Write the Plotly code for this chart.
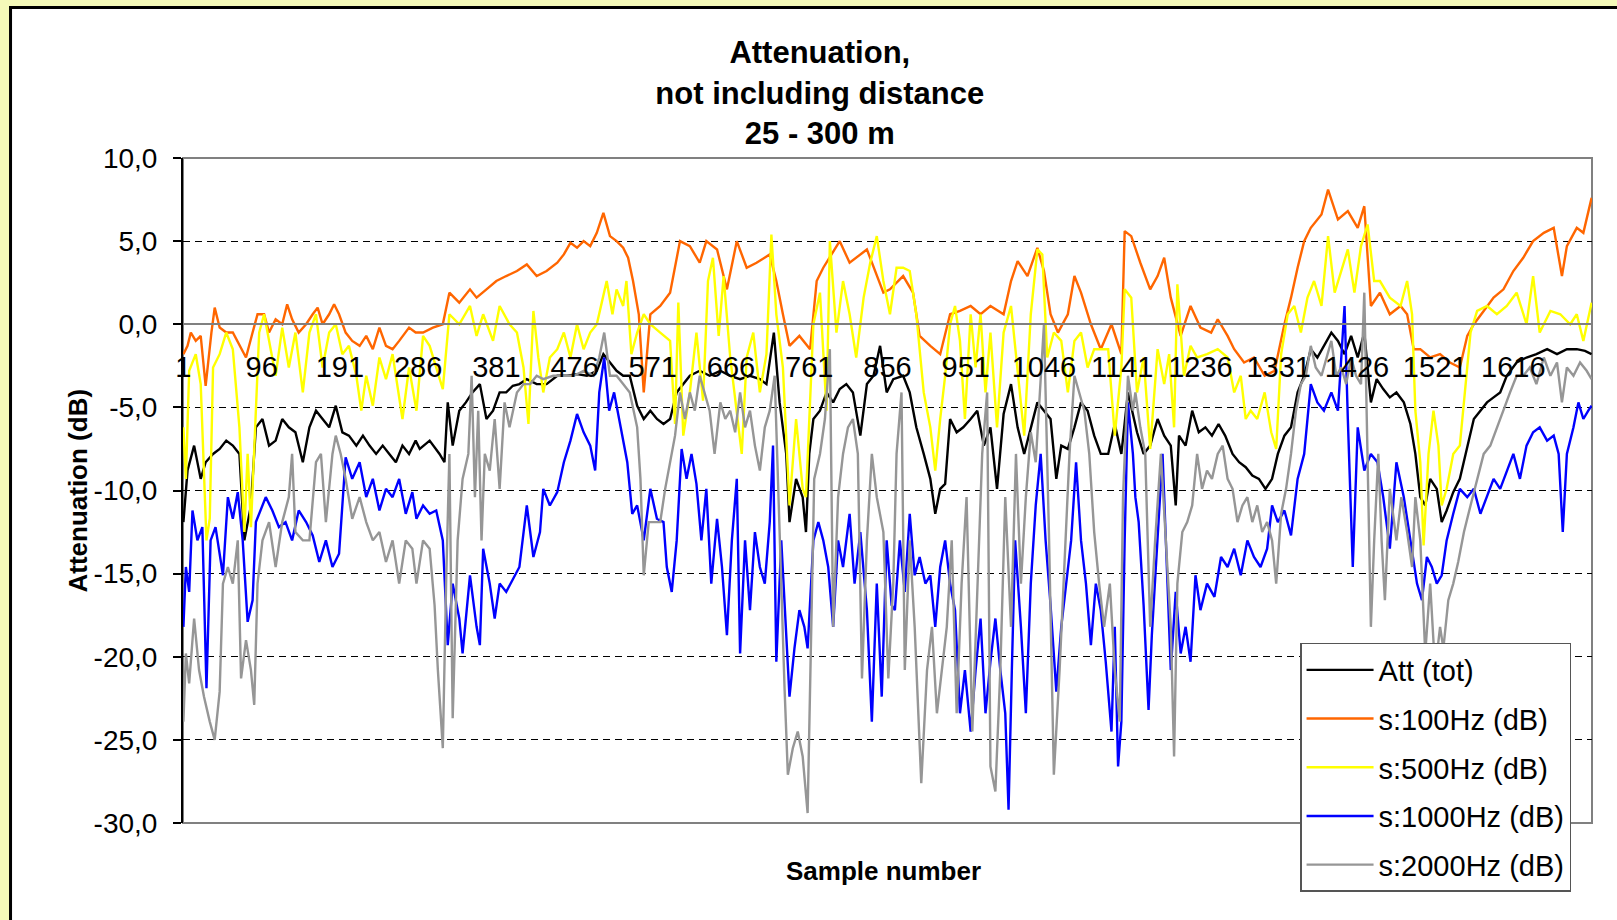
import plotly.graph_objects as go

# sample number / attenuation (dB)
att_tot = [(1,-11.9),(6,-8.8),(14,-7.3),(22,-9.3),(28,-8.3),(37,-7.8),(45,-7.5),(53,-7.0),(61,-7.3),(69,-7.8),(75,-13.0),(83,-10.9),(89,-6.2),(97,-5.7),(105,-7.3),(113,-7.0),(121,-5.7),(129,-6.2),(137,-6.5),(146,-8.3),(154,-6.2),(162,-5.2),(170,-5.7),(178,-6.2),(186,-4.9),(194,-6.5),(202,-6.7),(211,-7.3),(219,-6.7),(227,-7.3),(235,-7.8),(243,-7.3),(251,-7.8),(259,-8.3),(267,-7.3),(275,-7.8),(283,-7.0),
    (288,-7.5),(300,-7.0),(312,-7.8),(318,-8.3),(322,-4.7),(328,-7.3),(336,-5.2),(344,-4.7),(352,-4.1),(361,-3.6),(369,-5.7),(377,-5.2),(385,-4.1),(393,-4.1),(401,-3.7),(409,-3.6),(418,-3.3),(430,-3.6),(442,-3.6),(455,-3.1),(467,-3.1),(479,-3.0),(491,-3.1),(503,-2.8),(511,-1.8),(519,-2.3),(527,-2.8),(535,-3.1),(543,-3.1),(552,-4.9),(560,-5.7),(568,-5.2),(576,-5.7),
    (584,-6.0),(592,-5.7),(600,-4.1),(608,-3.6),(616,-3.1),(628,-2.8),(640,-3.1),(653,-2.8),(665,-3.1),(677,-3.3),(689,-3.1),(701,-3.3),(709,-3.6),(718,-0.5),(725,-4.7),(733,-7.8),(737,-11.9),(745,-9.3),(753,-10.4),(757,-12.5),(761,-7.8),(766,-5.7),(774,-5.2),(782,-4.1),(790,-4.7),(798,-3.9),(806,-3.6),(814,-4.1),(823,-6.7),(831,-3.6),(839,-3.1),(847,-1.3),(855,-4.1),(863,-3.3),
    (875,-3.1),(883,-4.1),(891,-6.2),(900,-7.8),(908,-9.3),(914,-11.4),(920,-9.9),(926,-9.6),(932,-5.7),(940,-6.5),(948,-6.2),(957,-5.7),(965,-5.2),(973,-7.3),(981,-6.2),(989,-9.9),(997,-5.4),(1006,-3.6),(1014,-6.2),(1022,-7.8),(1030,-6.2),(1038,-4.7),(1046,-5.2),(1054,-5.7),(1061,-9.3),(1067,-7.3),(1075,-7.5),(1083,-6.2),(1091,-4.7),(1099,-5.2),(1107,-6.7),(1115,-7.8),(1124,-7.8),(1132,-6.0),(1140,-7.8),(1148,-4.1),
    (1159,-6.5),(1167,-7.8),(1175,-7.3),(1184,-5.7),(1192,-6.7),(1200,-7.3),(1206,-10.9),(1210,-6.7),(1218,-7.3),(1226,-5.2),(1234,-6.5),(1242,-6.2),(1250,-6.7),(1258,-6.0),(1266,-6.7),(1275,-7.8),(1283,-8.3),(1291,-8.6),(1299,-9.1),(1307,-9.3),(1315,-9.9),(1323,-9.3),(1330,-7.8),(1338,-6.7),(1346,-6.2),(1354,-4.1),(1362,-3.1),(1370,-1.5),(1378,-2.0),(1386,-1.3),(1395,-0.5),(1403,-1.0),(1411,-1.8),(1419,-0.7),(1427,-2.0),(1435,-0.5),(1443,-4.7),
    (1450,-3.3),(1458,-3.9),(1466,-4.4),(1474,-4.1),(1483,-4.7),(1491,-6.0),(1497,-7.8),(1503,-10.4),(1509,-10.9),(1515,-9.3),(1523,-9.9),(1529,-11.9),(1535,-11.2),(1543,-10.1),(1551,-9.3),(1560,-7.3),(1568,-5.7),(1576,-5.2),(1584,-4.7),(1592,-4.4),(1600,-4.1),(1608,-3.1),(1620,-2.3),(1632,-2.0),(1644,-1.8),(1657,-1.5),(1669,-1.8),(1681,-1.5),(1693,-1.5),(1703,-1.6),(1711,-1.8)]

s100 = [(1,-1.8),(6,-1.3),(10,-0.5),(16,-1.0),(22,-0.7),(28,-3.7),(35,-0.5),(39,1.0),(45,-0.2),(53,-0.5),(61,-0.5),(69,-1.3),(77,-2.0),(85,-0.5),(91,0.6),(99,0.6),(105,-0.5),(113,0.3),(121,0.0),(127,1.2),(133,0.3),(141,-0.5),(150,0.0),(158,0.6),(164,1.0),(170,0.0),(178,0.6),(184,1.2),(190,0.6),(198,-0.5),(206,-1.0),(215,-1.3),(223,-0.7),(231,-1.5),(239,-0.2),(247,-1.3),(255,-1.5),(263,-1.0),(275,-0.2),(283,-0.5),
    (292,-0.5),(304,-0.2),(316,0.0),(324,1.9),(336,1.3),(349,2.1),(357,1.6),(369,2.1),(381,2.6),(393,2.9),(406,3.2),(418,3.6),(430,2.9),(442,3.2),(455,3.7),(463,4.2),(471,4.9),(479,4.6),(487,5.0),(495,4.7),(503,5.5),(511,6.7),(519,5.3),(527,5.0),(535,4.6),(541,4.0),(547,2.6),(554,0.6),(560,-4.1),(568,0.6),
    (580,1.1),(592,1.9),(600,4.0),(604,5.0),(616,4.7),(628,3.7),(636,5.0),(649,4.5),(661,2.1),(673,5.0),(685,3.4),(697,3.7),(713,4.2),(721,2.6),(729,0.6),(737,-1.3),(749,-0.7),(762,-1.5),(770,2.6),(778,3.4),(798,5.0),(810,3.7),(831,4.5),(851,1.9),
    (859,2.1),(875,2.9),(887,1.9),(895,-0.7),(908,-1.3),(920,-1.8),(932,0.6),(944,0.8),(957,1.1),(969,0.6),(981,1.1),(997,0.6),(1006,2.6),(1014,3.8),(1026,2.9),(1038,4.6),(1046,3.2),(1054,0.6),(1063,-0.5),(1075,0.6),(1083,2.9),(1091,1.9),(1103,0.0),(1115,-1.5),(1128,0.0),(1140,-1.8),(1144,5.6),(1152,5.3),
    (1163,3.7),(1175,2.1),(1184,2.9),(1192,4.0),(1200,1.6),(1212,-0.7),(1224,1.1),(1236,-0.2),(1249,-0.5),(1257,0.3),(1269,-0.7),(1277,-1.5),(1289,-2.3),(1301,-2.0),(1314,-3.1),(1326,-2.8),(1338,0.0),(1346,1.6),(1354,3.4),(1362,5.0),(1370,5.8),(1383,6.6),(1391,8.1),(1403,6.3),(1415,6.8),(1427,5.8),(1435,7.1),(1443,1.1),
    (1454,1.9),(1466,0.6),(1479,1.1),(1487,0.6),(1495,-1.5),(1503,-1.5),(1515,-2.0),(1527,-1.8),(1539,-2.3),(1551,-2.6),(1560,-0.7),(1568,0.0),(1580,0.8),(1592,1.6),(1604,2.1),(1616,3.2),(1628,4.0),(1640,5.0),(1653,5.5),(1665,5.8),(1675,2.9),(1681,4.7),(1693,5.8),(1701,5.5),(1711,7.6)]

s500 = [(1,-6.2),(4,-9.3),(8,-2.8),(16,-1.8),(22,-3.6),(29,-13.0),(33,-11.7),(37,-2.6),(45,-1.8),(53,-0.5),(61,-1.5),(69,-6.2),(75,-12.5),(79,-7.8),(83,-12.2),(89,-5.2),(93,-0.5),(99,0.6),(105,-1.0),(113,-3.1),(121,-0.2),(129,-2.6),(137,-0.5),(146,-4.1),(154,-0.5),(162,0.6),(170,-2.6),(178,-0.5),(186,0.0),(194,-1.8),(202,-1.3),(211,-3.1),(217,-5.2),(223,-3.1),(231,-4.9),(239,-2.0),(247,-3.3),(255,-1.8),(267,-5.7),(275,-2.6),
    (284,-5.2),(292,-0.7),(300,-1.3),(316,-3.9),(324,0.6),(336,0.0),(349,1.1),(357,-0.7),(365,0.6),(377,-1.0),(385,1.1),(397,0.0),(406,-0.5),(414,-2.6),(420,-6.0),(426,0.8),(432,-2.0),(438,-4.1),(446,-2.0),(455,-1.5),(463,-0.5),(471,-2.0),(479,0.0),(487,-1.5),(495,-0.5),(503,0.0),(509,1.3),(515,2.6),(522,0.6),(527,2.1),(535,1.1),(539,2.6),(545,-1.8),(552,-0.5),(560,0.6),(568,0.0),
    (580,-0.5),(592,-1.0),(598,-6.0),(602,1.3),(608,-6.7),(616,-4.1),(624,-0.5),(632,-4.6),(638,2.6),(644,4.0),(651,-0.7),(657,2.9),(665,-2.0),(673,-5.2),(679,-7.8),(685,-2.0),(693,-0.5),(701,-4.1),(709,-1.8),(715,5.4),(721,0.6),(729,-2.6),(737,-10.9),(745,-5.7),(753,-9.9),(757,-10.4),(766,0.0),(774,1.9),(782,-5.2),(786,5.0),(794,-0.5),(802,2.6),(810,0.6),(818,-2.0),(827,1.6),(835,3.7),(843,5.3),(851,2.6),(859,0.6),
    (867,3.4),(875,3.4),(883,3.2),(891,0.6),(900,-4.1),(908,-6.2),(914,-8.8),(920,-5.7),(926,-3.1),(932,0.0),(938,1.1),(944,-1.0),(950,-5.7),(957,0.6),(963,-2.6),(969,0.6),(975,-4.1),(981,-0.5),(989,-6.2),(997,-0.5),(1006,1.1),(1014,-2.6),(1022,-6.7),(1030,0.6),(1038,4.5),(1044,4.2),(1050,-2.0),(1058,-0.5),(1067,-1.0),(1075,-4.1),(1083,-1.0),(1091,-0.5),(1099,-2.6),(1107,-1.5),(1115,-1.5),(1124,-1.5),(1132,-6.7),(1140,-2.6),(1144,2.1),(1152,1.6),
    (1159,-4.1),(1167,-2.0),(1175,-7.5),(1184,-1.5),(1192,-3.6),(1198,-1.8),(1204,-6.2),(1208,2.4),(1216,-3.1),(1224,-1.3),(1232,-2.0),(1244,-1.8),(1257,-1.5),(1269,-2.0),(1277,-4.1),(1285,-3.1),(1291,-5.7),(1297,-5.2),(1305,-5.7),(1314,-4.1),(1322,-6.5),(1328,-7.5),(1334,-1.8),(1342,0.6),(1350,1.1),(1358,-0.5),(1366,1.6),(1374,2.6),(1383,1.1),(1391,5.3),(1399,1.9),(1407,3.2),(1415,4.5),(1423,1.9),(1431,4.7),(1439,6.0),(1447,2.6),
    (1454,2.6),(1466,1.6),(1479,1.1),(1487,2.6),(1493,0.6),(1497,-5.2),(1503,-8.3),(1507,-13.3),(1513,-7.8),(1519,-5.2),(1525,-7.3),(1529,-10.9),(1535,-9.9),(1543,-7.8),(1551,-7.3),(1558,-3.6),(1564,-0.5),(1572,0.8),(1584,1.1),(1596,0.6),(1608,1.1),(1620,1.9),(1632,0.0),(1640,2.9),(1648,-0.5),(1661,0.8),(1673,0.6),(1685,0.0),(1693,0.6),(1701,-1.0),(1711,1.3)]

s1000 = [(1,-18.2),(4,-14.6),(8,-16.1),(12,-11.2),(18,-13.0),(24,-12.2),(29,-21.9),(34,-13.0),(40,-12.2),(49,-15.1),(55,-10.4),(61,-11.7),(67,-10.1),(73,-13.0),(79,-17.9),(85,-16.6),(89,-11.9),(95,-11.2),(101,-10.4),(109,-11.2),(117,-12.2),(125,-11.9),(133,-13.0),(141,-11.2),(150,-11.9),(158,-12.7),(166,-14.3),(174,-13.0),(182,-14.6),(190,-13.8),(198,-8.0),(206,-9.3),(215,-8.3),(223,-10.4),(231,-9.3),(239,-11.2),(247,-9.9),(255,-10.4),(263,-9.3),(271,-11.4),(279,-10.1),
    (284,-11.7),(292,-10.9),(300,-11.4),(308,-11.2),(316,-13.0),(322,-19.3),(328,-15.6),(336,-17.7),(340,-19.8),(349,-15.1),(357,-18.2),(361,-19.3),(365,-13.5),(373,-15.6),(379,-17.7),(385,-15.6),(393,-16.1),(401,-15.3),(409,-14.6),(418,-10.9),(426,-14.0),(434,-12.5),(438,-9.9),(446,-10.9),(455,-10.1),(463,-8.3),(471,-7.0),(479,-5.4),(487,-6.5),(495,-7.3),(501,-8.8),(506,-4.1),(512,-2.0),(518,-5.2),(524,-4.1),(532,-6.2),(540,-8.3),(546,-11.4),(552,-10.9),(560,-13.0),(568,-9.9),(576,-11.7),
    (584,-11.9),(588,-14.6),(594,-16.1),(600,-13.0),(606,-7.5),(612,-9.3),(618,-7.8),(624,-9.6),(630,-13.0),(636,-9.9),(642,-15.6),(649,-11.7),(655,-14.6),(661,-18.7),(667,-13.0),(673,-9.3),(677,-19.8),(683,-13.0),(689,-17.2),(695,-12.5),(701,-14.6),(707,-15.6),(713,-11.9),(717,-7.3),(721,-20.3),(727,-13.0),(733,-18.2),(737,-22.4),(743,-19.5),(749,-17.2),(755,-18.2),(759,-19.5),(766,-13.0),(772,-11.9),(778,-13.0),(784,-14.6),(790,-18.2),(796,-13.0),(802,-14.6),(810,-11.4),(816,-15.6),(823,-12.5),(831,-17.2),(837,-23.9),(843,-15.6),(849,-22.4),(855,-13.0),(861,-16.9),
    (865,-17.2),(871,-13.0),(877,-16.1),(883,-11.4),(889,-15.1),(895,-14.0),(902,-15.6),(908,-15.1),(914,-18.2),(920,-14.6),(926,-13.0),(932,-15.6),(938,-17.2),(944,-23.4),(950,-20.8),(957,-24.5),(963,-20.8),(969,-17.7),(975,-23.4),(981,-20.3),(987,-17.7),(993,-20.8),(999,-23.4),(1003,-29.2),(1007,-20.8),(1011,-13.0),(1018,-18.2),(1024,-23.4),(1030,-15.6),(1036,-10.9),(1042,-7.8),(1048,-13.0),(1054,-16.9),(1061,-22.1),(1067,-18.2),(1073,-15.6),(1079,-13.0),(1085,-8.3),(1091,-13.0),(1097,-15.6),(1103,-19.3),(1109,-15.6),(1115,-17.2),(1121,-20.3),(1128,-24.5),(1132,-18.2),(1136,-26.6),(1140,-23.9),(1144,-13.0),(1148,-4.7),(1154,-7.8),
    (1157,-10.4),(1161,-11.9),(1167,-16.9),(1173,-23.2),(1177,-18.7),(1184,-13.0),(1190,-7.8),(1196,-15.6),(1200,-20.8),(1206,-16.1),(1212,-19.8),(1218,-18.2),(1224,-20.3),(1230,-15.1),(1236,-17.2),(1244,-15.6),(1253,-16.4),(1261,-14.0),(1269,-14.6),(1277,-13.5),(1285,-15.1),(1293,-13.0),(1301,-14.0),(1309,-14.6),(1317,-13.5),(1323,-10.9),(1330,-11.9),(1338,-11.2),(1346,-12.7),(1354,-9.3),(1362,-7.8),(1370,-3.6),(1378,-4.7),(1386,-5.2),(1395,-4.1),(1403,-5.2),(1411,1.1),(1415,-5.7),(1421,-14.6),(1427,-6.2),(1435,-8.8),(1443,-7.8),(1451,-8.3),
    (1458,-10.4),(1466,-13.5),(1474,-8.3),(1483,-10.4),(1491,-13.0),(1499,-15.6),(1505,-16.6),(1511,-14.0),(1517,-14.6),(1523,-15.6),(1529,-15.1),(1535,-13.0),(1543,-11.4),(1551,-9.9),(1560,-10.4),(1568,-9.9),(1576,-11.4),(1584,-10.4),(1592,-9.3),(1600,-9.9),(1608,-8.8),(1616,-7.8),(1624,-9.3),(1632,-7.3),(1640,-6.5),(1648,-6.2),(1657,-7.0),(1665,-6.7),(1671,-7.8),(1676,-12.5),(1681,-7.8),(1689,-6.2),(1695,-4.7),(1701,-5.7),(1707,-5.2),(1711,-4.9)]

s2000 = [(1,-23.9),(4,-19.8),(8,-21.6),(14,-17.7),(20,-20.8),(26,-22.4),(33,-23.9),(39,-25.0),(45,-22.1),(49,-15.6),(55,-14.6),(61,-15.6),(67,-13.0),(71,-21.3),(77,-19.0),(83,-20.8),(87,-22.9),(91,-15.6),(97,-13.0),(105,-11.9),(113,-14.6),(121,-11.9),(129,-10.4),(133,-7.8),(137,-12.5),(146,-13.0),(154,-13.0),(162,-8.3),(168,-7.8),(174,-11.9),(182,-7.8),(186,-6.7),(192,-7.8),(198,-9.3),(206,-11.7),(215,-10.4),(223,-11.9),(231,-13.0),(239,-12.5),(247,-14.3),(255,-13.0),(263,-15.6),(271,-13.0),(279,-13.5),
    (284,-15.6),(292,-13.0),(300,-13.5),(306,-16.9),(310,-20.8),(316,-25.5),(320,-15.6),(324,-7.8),(328,-23.7),(334,-13.0),(340,-9.3),(347,-7.8),(351,-3.1),(355,-10.4),(359,-5.2),(363,-13.0),(367,-7.8),(373,-8.8),(379,-5.7),(385,-9.9),(391,-4.7),(397,-6.2),(406,-4.1),(414,-3.6),(422,-3.6),(430,-3.1),(438,-3.3),(450,-3.1),(463,-3.1),(475,-3.1),(487,-2.8),(499,-3.1),(506,-2.0),(512,-0.5),(519,-3.1),(527,-3.1),(535,-3.6),(543,-4.1),(552,-6.2),(556,-9.3),(560,-15.1),(566,-11.9),(574,-11.9),
    (580,-11.9),(586,-9.9),(592,-8.3),(598,-6.7),(604,-4.1),(610,-5.7),(616,-4.1),(622,-5.2),(628,-3.1),(634,-4.1),(640,-5.2),(646,-7.8),(653,-4.7),(659,-5.7),(665,-5.2),(671,-6.5),(677,-4.1),(683,-6.2),(689,-5.2),(695,-7.3),(701,-8.8),(707,-6.2),(713,-5.2),(719,-3.1),(725,-13.0),(731,-21.9),(735,-27.1),(741,-25.5),(747,-24.5),(753,-26.0),(759,-29.4),(763,-18.2),(767,-9.3),(774,-7.8),(780,-5.7),(786,-1.5),(790,-18.2),(796,-10.4),(802,-7.8),(808,-6.2),(814,-5.7),(820,-7.8),(825,-21.3),(831,-13.0),(837,-7.8),(843,-10.4),(851,-12.5),(857,-21.3),(863,-15.6),
    (867,-7.8),(873,-4.1),(877,-20.8),(883,-13.0),(889,-18.2),(897,-27.6),(904,-20.8),(910,-18.2),(916,-23.4),(922,-20.8),(928,-18.2),(934,-13.0),(940,-23.4),(946,-15.6),(952,-10.4),(959,-24.5),(965,-15.6),(971,-7.8),(977,-4.1),(981,-26.6),(987,-28.1),(993,-20.8),(999,-10.4),(1006,-18.2),(1012,-7.8),(1018,-15.6),(1024,-10.4),(1030,-6.5),(1036,-8.3),(1042,-3.6),(1046,0.0),(1052,-12.5),(1058,-27.1),(1065,-20.8),(1071,-14.6),(1077,-7.8),(1083,-3.1),(1089,-4.1),(1095,-5.2),(1101,-7.8),(1107,-12.5),(1113,-15.6),(1119,-18.2),(1126,-15.6),(1132,-20.8),(1138,-23.9),(1142,-10.4),(1148,-3.1),(1154,-5.2),
    (1157,-4.1),(1163,-6.2),(1169,-7.8),(1175,-18.2),(1181,-13.0),(1188,-7.8),(1194,-13.0),(1200,-18.2),(1204,-26.0),(1208,-15.6),(1214,-12.5),(1220,-11.9),(1226,-10.9),(1232,-7.8),(1238,-9.9),(1244,-8.8),(1250,-9.3),(1257,-7.8),(1263,-7.3),(1269,-9.3),(1275,-9.9),(1281,-11.9),(1287,-10.9),(1293,-10.4),(1299,-11.9),(1305,-10.9),(1311,-12.5),(1317,-11.9),(1323,-13.0),(1328,-15.6),(1334,-11.4),(1340,-9.9),(1346,-7.8),(1352,-5.2),(1358,-3.6),(1364,-3.1),(1370,-1.3),(1376,-2.6),(1383,-3.1),(1389,-2.0),(1395,-1.0),(1401,-3.1),(1407,-2.6),(1413,-3.6),(1419,-2.0),(1425,-3.1),(1431,-3.6),(1435,1.9),(1439,-7.8),(1443,-18.2),(1447,-13.0),
    (1452,-7.8),(1456,-13.0),(1460,-16.6),(1466,-9.9),(1474,-13.0),(1480,-10.4),(1487,-12.5),(1493,-14.6),(1497,-10.4),(1503,-13.0),(1509,-19.8),(1515,-15.6),(1521,-20.8),(1527,-18.2),(1531,-19.5),(1537,-16.6),(1543,-15.6),(1549,-14.3),(1556,-12.5),(1564,-10.9),(1572,-9.3),(1580,-7.8),(1588,-7.3),(1596,-6.2),(1604,-5.2),(1612,-4.1),(1620,-3.1),(1628,-3.1),(1636,-2.6),(1644,-3.6),(1653,-2.0),(1661,-3.1),(1669,-2.3),(1675,-4.7),(1681,-2.6),(1689,-3.1),(1697,-2.3),(1705,-2.8),(1711,-3.3)]

series_names = ["Att (tot)", "s:100Hz (dB)", "s:500Hz (dB)", "s:1000Hz (dB)", "s:2000Hz (dB)"]
series_data = [att_tot, s100, s500, s1000, s2000]
series_colors = ["#000000", "#FF6600", "#FFFF00", "#0000FF", "#969696"]

tick_samples = [1, 96, 191, 286, 381, 476, 571, 666, 761, 856, 951, 1046, 1141, 1236, 1331, 1426, 1521, 1616]
y_ticks = [10, 5, 0, -5, -10, -15, -20, -25, -30]
y_ticktext = ["10,0", "5,0", "0,0", "-5,0", "-10,0", "-15,0", "-20,0", "-25,0", "-30,0"]
n_samples = 1711

FONT = "Liberation Sans, Arial, sans-serif"
BG = "#F5FAB9"

fig = go.Figure()
for i, (name, pts, col) in enumerate(zip(series_names, series_data, series_colors)):
    xs, ys = zip(*pts)
    fig.add_trace(go.Scatter(
        x=xs, y=ys, name=name, mode="lines",
        line=dict(color=col, width=2.4),
        legendgroup=f"g{i}"
    ))

fig.update_layout(
    width=1617, height=920,
    margin=dict(l=183, r=25, t=158, b=97),
    paper_bgcolor=BG,
    plot_bgcolor="#FFFFFF",
    font=dict(family=FONT, color="#000000", size=28),
    title=dict(
        text="<b>Attenuation,<br>not including distance<br>25 - 300 m</b>",
        x=0.507, xref="container", xanchor="center",
        y=0.931, yref="container", yanchor="top",
        font=dict(family=FONT, size=31, color="#000000")
    ),
    xaxis=dict(
        range=[0.5, n_samples + 0.5],
        anchor="free", position=0.75,
        showline=True, linecolor="#808080", linewidth=2,
        showgrid=False, zeroline=False,
        tickmode="array", tickvals=tick_samples,
        ticktext=[str(t) for t in tick_samples],
        ticks="", ticklabelstandoff=17,
        tickfont=dict(size=29)
    ),
    yaxis=dict(
        range=[-30, 10], tickmode="array", tickvals=y_ticks, ticktext=y_ticktext,
        showline=True, linecolor="#000000", linewidth=2,
        ticks="outside", ticklen=8, tickwidth=1.5, tickcolor="#000000",
        ticklabelstandoff=10,
        showgrid=True, gridcolor="#000000", gridwidth=1, griddash="7px,5px",
        zeroline=False,
        tickfont=dict(size=28)
    ),
    legend=dict(
        x=0.7928, y=0.2707, xanchor="left", yanchor="top",
        bgcolor="#FFFFFF", bordercolor="#555555", borderwidth=1.5,
        font=dict(size=29), tracegroupgap=8, itemwidth=67
    ),
    showlegend=True
)

# chart area (white with black frame) and plot-area border
fig.add_shape(type="rect", xref="paper", yref="paper",
              x0=-0.1224, x1=1.034, y0=-0.176, y1=1.2263,
              line=dict(color="#000000", width=3), fillcolor="#FFFFFF", layer="below")
fig.add_shape(type="rect", xref="x domain", yref="y domain",
              x0=0, x1=1, y0=0, y1=1,
              line=dict(color="#808080", width=2), layer="below")

fig.add_annotation(text="<b>Sample number</b>", xref="paper", yref="paper",
                   x=0.4975, y=-0.072, xanchor="center", yanchor="middle",
                   showarrow=False, font=dict(size=26, family=FONT))
fig.add_annotation(text="<b>Attenuation (dB)</b>", xref="paper", yref="paper",
                   x=-0.0752, y=0.5, xanchor="center", yanchor="middle",
                   textangle=-90, showarrow=False, font=dict(size=26, family=FONT))

fig.write_html("out.html", config={"displayModeBar": False},
               post_script=f"document.body.style.margin='0';document.body.style.background='{BG}';")
